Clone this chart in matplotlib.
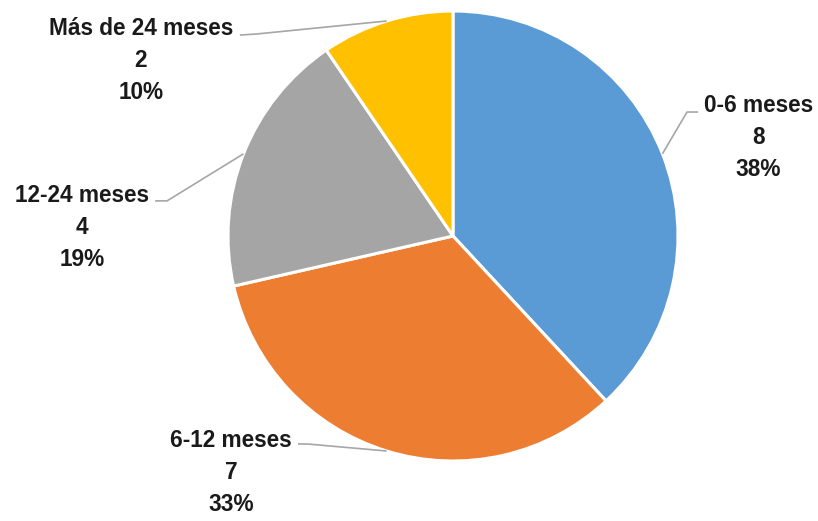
import numpy as np
import matplotlib
matplotlib.use("Agg")
import matplotlib.pyplot as plt

categories = ["0-6 meses", "6-12 meses", "12-24 meses", "Más de 24 meses"]
values = [8, 7, 4, 2]
colors = ["#5B9BD5", "#ED7D31", "#A5A5A5", "#FFC000"]

# label block centres and leader-line elbow/end points (data units, pie radius = 1)
label_pos = [(1.356, 0.44), (-0.987, -1.049), (-1.649, 0.04), (-1.387, 0.782)]
elbows = [((1.04, 0.551), (1.089, 0.551)),
          ((-0.64, -0.925), (-0.689, -0.924)),
          ((-1.271, 0.156), (-1.324, 0.156)),
          ((-0.871, 0.898), (-0.947, 0.893))]

W, H, DPI = 818, 521, 100
cx, cy, R = 453, 236, 225

fig = plt.figure(figsize=(W / DPI, H / DPI), dpi=DPI)
ax = fig.add_axes([0, 0, 1, 1])
wedges, _ = ax.pie(values, colors=colors, startangle=90, counterclock=False,
                   radius=1.0, wedgeprops=dict(edgecolor="white", linewidth=2.2))
ax.set_xlim(-cx / R, (W - cx) / R)
ax.set_ylim(-(H - cy) / R, cy / R)
ax.set_aspect("equal")
ax.axis("off")

total = sum(values)
for i, (w, cat, v) in enumerate(zip(wedges, categories, values)):
    ang = np.deg2rad((w.theta1 + w.theta2) / 2)
    sx, sy = np.cos(ang), np.sin(ang)
    (ex, ey), (fx, fy) = elbows[i]
    ax.plot([sx, ex, fx], [sy, ey, fy], color="#A6A6A6", lw=1.2,
            solid_capstyle="butt", zorder=1)
    pct = round(v / total * 100)
    lx, ly = label_pos[i]
    ax.text(lx, ly, f"{cat}\n{v}\n{pct}%", ha="center", va="center",
            fontsize=16.3, fontweight="bold", family="Liberation Sans",
            color="#1a1a1a", linespacing=1.5)

fig.savefig("out.png", dpi=DPI)
